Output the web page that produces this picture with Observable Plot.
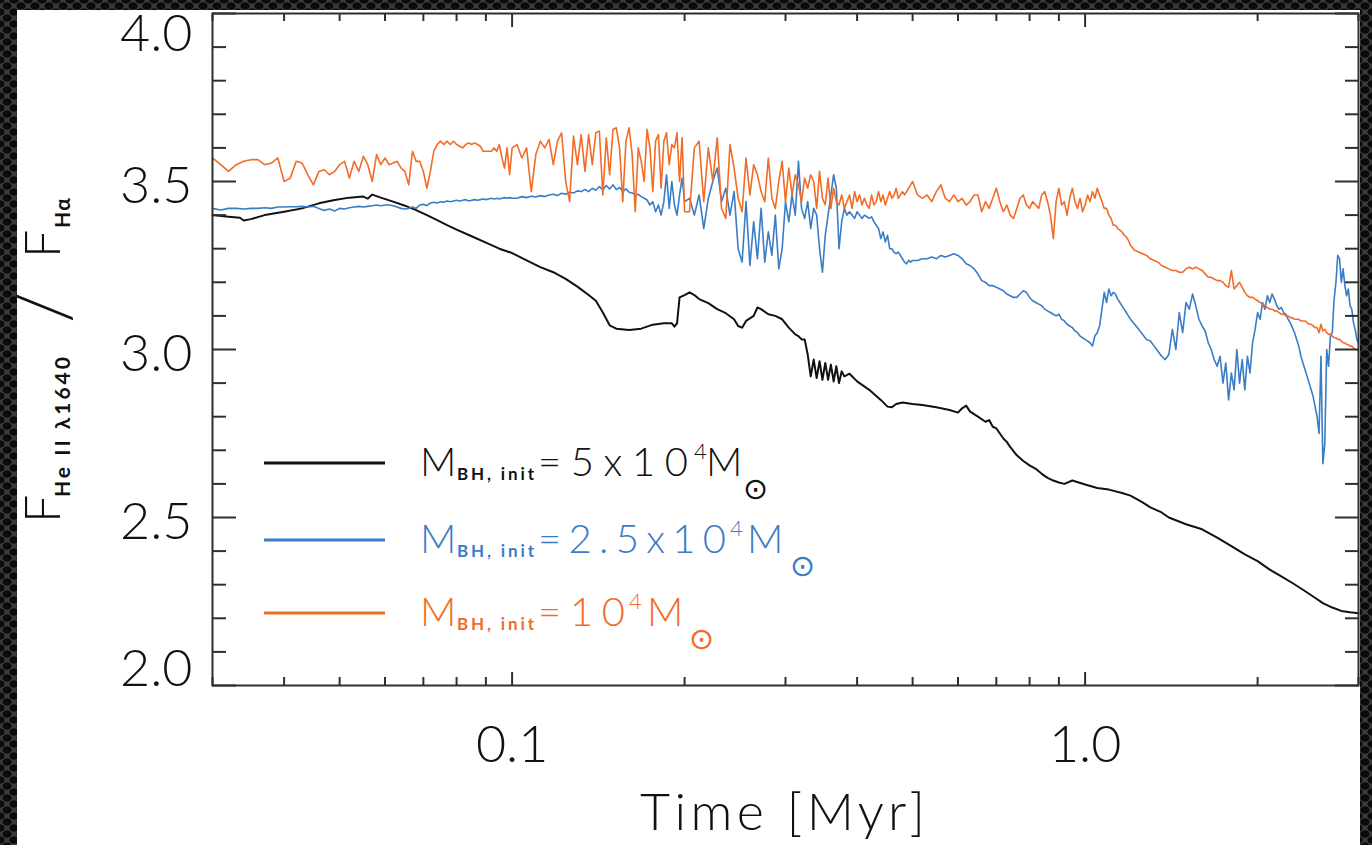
<!DOCTYPE html>
<html>
<head>
<meta charset="utf-8">
<script src="https://cdn.jsdelivr.net/npm/d3@7"></script>
<script src="https://cdn.jsdelivr.net/npm/@observablehq/plot@0.6"></script>
<style>
  html, body { margin: 0; padding: 0; }
  body {
    width: 1372px; height: 845px; overflow: hidden; position: relative;
    background-color: #3a3a3c;
    background-image:
      radial-gradient(ellipse 5px 4px at 7px 6px, #0b0b0c 80%, rgba(0,0,0,0) 100%),
      radial-gradient(ellipse 5px 4px at 7px 6px, #0b0b0c 80%, rgba(0,0,0,0) 100%);
    background-size: 14px 12px, 14px 12px;
    background-position: 0 0, 7px 6px;
  }
  #panel { position: absolute; left: 17px; top: 10px; width: 1343px; height: 835px; background: #fff; }
  #panel svg { display: block; }
</style>
</head>
<body>
<div id="panel"></div>
<script>
// ---------------- data ----------------
const times = [
  0.030,0.031,0.032,0.033,0.034,0.035,0.036,0.037,0.038,0.039,
  0.040,0.041,0.042,0.043,0.044,0.045,0.046,0.047,0.048,0.049,
  0.050,0.051,0.052,0.053,0.054,0.055,0.056,0.057,0.058,0.059,
  0.060,0.061,0.062,0.063,0.064,0.065,0.066,0.067,0.068,0.069,
  0.070,0.071,0.072,0.073,0.074,0.075,0.076,0.077,0.078,0.079,
  0.080,0.081,0.082,0.083,0.084,0.085,0.086,0.087,0.088,0.089,
  0.090,0.091,0.092,0.093,0.094,0.095,0.096,0.097,0.098,0.099,
  0.100,
  0.102,0.104,0.106,0.108,0.110,0.112,0.114,0.116,0.118,0.120,
  0.122,0.124,0.126,0.128,0.130,0.132,0.134,0.136,0.138,0.140,
  0.142,0.144,0.146,0.148,0.150,0.152,0.154,0.156,0.158,0.160,
  0.162,0.164,0.166,0.168,0.170,0.172,0.174,0.176,0.178,0.180,
  0.182,0.184,0.186,0.188,0.190,0.192,0.194,0.196,0.198,0.200,
  0.204,0.208,0.212,0.216,0.220,0.224,0.228,0.232,0.236,0.240,
  0.244,0.248,0.252,0.256,0.260,0.264,0.268,0.272,0.276,0.280,
  0.284,0.288,0.292,0.296,0.300,0.304,0.308,0.312,0.316,0.320,
  0.324,0.328,0.332,0.336,0.340,0.344,0.348,0.352,0.356,0.360,
  0.364,0.368,0.372,0.376,0.380,0.384,0.388,0.392,0.396,0.400,
  0.404,0.408,0.412,0.416,0.420,0.424,0.428,0.432,0.436,0.440,
  0.444,0.448,0.452,0.456,0.460,0.464,0.468,0.472,0.476,0.480,
  0.484,0.488,0.492,0.496,0.500,
  0.51,0.52,0.53,0.54,0.55,0.56,0.57,0.58,0.59,0.60,
  0.61,0.62,0.63,0.64,0.65,0.66,0.67,0.68,0.69,0.70,
  0.71,0.72,0.73,0.74,0.75,0.76,0.77,0.78,0.79,0.80,
  0.81,0.82,0.83,0.84,0.85,0.86,0.87,0.88,0.89,0.90,
  0.91,0.92,0.93,0.94,0.95,0.96,0.97,0.98,0.99,1.00,
  1.01,1.02,1.03,1.04,1.05,1.06,1.07,1.08,1.09,1.10,
  1.11,1.12,1.13,1.14,1.15,1.16,1.17,1.18,1.19,1.20,
  1.22,1.24,1.26,1.28,1.30,1.32,1.34,1.36,1.38,1.40,
  1.42,1.44,1.46,1.48,1.50,1.52,1.54,1.56,1.58,1.60,
  1.62,1.64,1.66,1.68,1.70,1.72,1.74,1.76,1.78,1.80,
  1.82,1.84,1.86,1.88,1.90,1.92,1.94,1.96,1.98,2.00,
  2.02,2.04,2.06,2.08,2.10,2.12,2.14,2.16,2.18,2.20,
  2.22,2.24,2.26,2.28,2.30,2.32,2.34,2.36,2.38,2.40,
  2.42,2.44,2.46,2.48,2.50,2.52,2.54,2.56,2.58,2.60,
  2.62,2.64,2.66,2.68,2.70,2.72,2.74,2.76,2.78,2.80,
  2.82,2.84,2.86,2.88,2.90,2.92,2.94,2.96,2.98,3.00
];

// M_BH,init = 1e4 Msun (orange)
const orangeValues = [
  3.57,3.55,3.53,3.55,3.56,3.565,3.565,3.55,3.555,3.57,
  3.50,3.51,3.56,3.555,3.52,3.49,3.53,3.535,3.52,3.53,
  3.55,3.56,3.51,3.56,3.53,3.575,3.55,3.50,3.58,3.55,
  3.57,3.55,3.555,3.56,3.54,3.53,3.49,3.59,3.56,3.56,
  3.53,3.48,3.53,3.59,3.61,3.62,3.61,3.62,3.61,3.62,
  3.61,3.605,3.60,3.61,3.615,3.61,3.615,3.61,3.605,3.59,
  3.59,3.59,3.59,3.60,3.59,3.61,3.57,3.54,3.60,3.52,
  3.60,
  3.61,3.57,3.60,3.47,3.58,3.62,3.60,3.625,3.55,3.62,
  3.645,3.50,3.44,3.635,3.55,3.64,3.53,3.64,3.55,3.645,
  3.65,3.46,3.63,3.52,3.655,3.66,3.60,3.44,3.62,3.66,
  3.58,3.41,3.60,3.56,3.50,3.655,3.60,3.47,3.62,3.64,
  3.48,3.62,3.645,3.55,3.61,3.60,3.645,3.50,3.63,3.41,
  3.41,3.60,3.62,3.44,3.60,3.50,3.63,3.42,3.39,3.61,
  3.54,3.45,3.41,3.57,3.46,3.55,3.52,3.47,3.44,3.57,
  3.45,3.42,3.50,3.56,3.44,3.54,3.46,3.52,3.49,3.44,
  3.51,3.48,3.52,3.50,3.42,3.53,3.45,3.43,3.51,3.42,
  3.48,3.44,3.43,3.46,3.42,3.44,3.46,3.42,3.47,3.44,
  3.46,3.43,3.45,3.43,3.42,3.46,3.43,3.44,3.47,3.44,
  3.46,3.43,3.45,3.47,3.45,3.46,3.48,3.45,3.46,3.47,
  3.46,3.47,3.48,3.49,3.50,
  3.46,3.45,3.46,3.44,3.47,3.49,3.45,3.44,3.46,3.44,
  3.45,3.43,3.44,3.46,3.46,3.41,3.44,3.42,3.45,3.48,
  3.44,3.41,3.43,3.40,3.39,3.42,3.45,3.46,3.43,3.42,
  3.44,3.43,3.42,3.46,3.47,3.44,3.40,3.33,3.44,3.48,
  3.43,3.44,3.40,3.45,3.48,3.44,3.42,3.45,3.41,3.43,
  3.46,3.44,3.47,3.45,3.48,3.46,3.44,3.42,3.42,3.40,
  3.39,3.37,3.37,3.36,3.355,3.35,3.34,3.335,3.325,3.31,
  3.295,3.29,3.285,3.28,3.27,3.265,3.26,3.25,3.245,3.24,
  3.235,3.235,3.23,3.23,3.24,3.245,3.24,3.245,3.24,3.235,
  3.225,3.215,3.215,3.21,3.205,3.205,3.20,3.19,3.185,3.235,
  3.18,3.19,3.20,3.185,3.17,3.16,3.155,3.155,3.15,3.145,
  3.14,3.135,3.13,3.125,3.12,3.12,3.115,3.115,3.11,3.105,
  3.105,3.10,3.10,3.095,3.095,3.09,3.09,3.09,3.085,3.085,
  3.085,3.08,3.075,3.075,3.07,3.065,3.065,3.05,3.075,3.055,
  3.06,3.05,3.045,3.045,3.04,3.035,3.035,3.03,3.03,3.025,
  3.02,3.02,3.015,3.015,3.01,3.01,3.005,3.0,3.0,2.995
];

// M_BH,init = 2.5e4 Msun (blue)
const blueValues = [
  3.42,3.415,3.42,3.42,3.418,3.42,3.42,3.422,3.42,3.424,
  3.424,3.425,3.425,3.426,3.424,3.426,3.42,3.414,3.418,3.412,
  3.42,3.418,3.422,3.424,3.426,3.424,3.426,3.428,3.43,3.428,
  3.43,3.43,3.428,3.424,3.42,3.418,3.42,3.424,3.42,3.43,
  3.432,3.428,3.436,3.438,3.436,3.44,3.438,3.442,3.44,3.442,
  3.444,3.442,3.444,3.446,3.442,3.444,3.446,3.444,3.446,3.448,
  3.446,3.448,3.45,3.448,3.45,3.448,3.45,3.452,3.45,3.452,
  3.45,
  3.45,3.455,3.452,3.456,3.454,3.458,3.455,3.46,3.462,3.458,
  3.465,3.462,3.468,3.466,3.472,3.47,3.476,3.47,3.48,3.474,
  3.485,3.475,3.488,3.478,3.49,3.476,3.482,3.47,3.478,3.468,
  3.466,3.46,3.462,3.455,3.45,3.445,3.43,3.44,3.41,3.43,
  3.40,3.44,3.52,3.42,3.50,3.43,3.40,3.46,3.51,3.44,
  3.45,3.40,3.46,3.36,3.45,3.50,3.54,3.44,3.48,3.40,
  3.47,3.30,3.26,3.44,3.25,3.38,3.27,3.42,3.26,3.35,
  3.28,3.40,3.24,3.30,3.44,3.38,3.46,3.40,3.56,3.42,
  3.39,3.44,3.36,3.42,3.40,3.30,3.23,3.34,3.40,3.46,
  3.52,3.48,3.30,3.38,3.42,3.40,3.41,3.40,3.39,3.41,
  3.40,3.39,3.40,3.395,3.39,3.395,3.38,3.37,3.36,3.33,
  3.35,3.32,3.34,3.30,3.30,3.29,3.285,3.29,3.28,3.27,
  3.26,3.255,3.265,3.26,3.265,
  3.265,3.27,3.27,3.275,3.27,3.28,3.275,3.28,3.285,3.28,
  3.27,3.255,3.25,3.24,3.225,3.205,3.20,3.19,3.19,3.185,
  3.18,3.175,3.165,3.16,3.155,3.155,3.165,3.175,3.17,3.155,
  3.145,3.14,3.135,3.13,3.12,3.115,3.11,3.105,3.10,3.105,
  3.09,3.085,3.075,3.07,3.065,3.055,3.05,3.04,3.035,3.03,
  3.025,3.02,3.01,3.04,3.05,3.07,3.12,3.17,3.14,3.18,
  3.16,3.17,3.165,3.15,3.14,3.13,3.12,3.11,3.10,3.09,
  3.075,3.06,3.045,3.03,3.025,3.01,2.995,2.98,2.97,2.985,
  3.06,3.00,3.11,3.05,3.14,3.12,3.165,3.13,3.09,3.07,
  3.055,3.02,3.00,2.97,2.95,2.98,2.90,2.96,2.85,2.93,
  2.88,3.00,2.90,2.97,2.88,2.98,2.93,3.02,3.06,3.11,
  3.09,3.14,3.12,3.16,3.14,3.165,3.15,3.13,3.12,3.125,
  3.11,3.105,3.09,3.08,3.065,3.05,3.03,3.01,2.98,2.96,
  2.94,2.92,2.90,2.88,2.86,2.83,2.80,2.75,2.98,2.66,
  2.72,3.00,2.95,3.04,3.05,3.15,3.20,3.28,3.27,3.20,
  3.24,3.19,3.16,3.18,3.13,3.12,3.08,3.06,3.03,3.02
];

// M_BH,init = 5e4 Msun (black)
const blackTimes = [
  0.030,0.032,0.0335,0.034,0.035,0.037,0.040,0.043,0.046,0.049,
  0.052,0.055,0.056,0.057,0.059,0.062,0.065,0.068,0.071,0.074,
  0.077,0.080,0.085,0.090,0.095,0.100,0.106,0.112,0.118,0.124,
  0.130,0.136,0.140,0.144,0.148,0.152,0.160,0.168,0.176,0.184,
  0.190,0.192,0.194,0.196,0.200,0.204,0.208,0.212,0.220,0.228,
  0.236,0.244,0.248,0.252,0.256,0.264,0.268,0.272,0.280,0.288,
  0.296,0.304,0.312,0.316,0.320,0.324,0.328,0.332,0.336,0.340,
  0.344,0.348,0.352,0.356,0.360,0.364,0.368,0.372,0.376,0.380,
  0.388,0.400,0.420,0.440,0.452,0.460,0.468,0.480,0.500,0.52,
  0.55,0.58,0.60,0.61,0.62,0.63,0.65,0.67,0.68,0.69,
  0.70,0.71,0.72,0.73,0.74,0.76,0.78,0.80,0.82,0.84,
  0.86,0.88,0.90,0.92,0.95,1.00,1.05,1.10,1.16,1.20,
  1.26,1.30,1.36,1.40,1.50,1.60,1.70,1.80,1.90,2.00,
  2.10,2.20,2.30,2.40,2.50,2.60,2.70,2.80,2.90,3.00
];
const blackValues = [
  3.40,3.395,3.392,3.384,3.388,3.40,3.41,3.42,3.435,3.445,
  3.452,3.455,3.449,3.461,3.452,3.44,3.428,3.415,3.40,3.385,
  3.37,3.357,3.337,3.318,3.30,3.287,3.265,3.245,3.23,3.21,
  3.187,3.162,3.145,3.11,3.072,3.062,3.058,3.062,3.074,3.078,
  3.078,3.068,3.078,3.155,3.162,3.17,3.162,3.15,3.138,3.12,
  3.108,3.09,3.07,3.065,3.085,3.10,3.125,3.12,3.105,3.10,
  3.09,3.065,3.045,3.04,3.03,3.03,2.985,2.92,2.97,2.915,
  2.965,2.91,2.96,2.91,2.955,2.905,2.95,2.90,2.935,2.92,
  2.928,2.905,2.88,2.85,2.83,2.828,2.838,2.842,2.838,2.835,
  2.828,2.82,2.812,2.825,2.833,2.815,2.80,2.785,2.79,2.77,
  2.765,2.75,2.735,2.725,2.71,2.685,2.668,2.655,2.645,2.63,
  2.618,2.61,2.604,2.60,2.61,2.598,2.588,2.583,2.573,2.565,
  2.545,2.53,2.515,2.50,2.48,2.465,2.44,2.415,2.39,2.37,
  2.345,2.325,2.305,2.285,2.265,2.245,2.232,2.222,2.218,2.215
];

const seriesColors = ["#111111", "#3b7cc7", "#f26c27"];
const legendMass = ["5x10", "2.5x10", "10"];
const legendExponent = "4";
const legendSubscript = "BH, init";

const xMajorTicks = [0.1, 1.0];
const xMinorTicks = [0.03,0.04,0.05,0.06,0.07,0.08,0.09,0.2,0.3,0.4,0.5,0.6,0.7,0.8,0.9,2,3];
const yMajorTicks = [2.0, 2.5, 3.0, 3.5, 4.0];
const yMinorTicks = [2.1,2.2,2.3,2.4,2.6,2.7,2.8,2.9,3.1,3.2,3.3,3.4,3.6,3.7,3.8,3.9];
const xTitle = "Time [Myr]";

if (times.length !== orangeValues.length || times.length !== blueValues.length || blackTimes.length !== blackValues.length) {
  console.error("length mismatch", times.length, orangeValues.length, blueValues.length, blackTimes.length, blackValues.length);
}

// ---------------- build tables ----------------
const n = Math.min(times.length, orangeValues.length, blueValues.length);
const orangeRows = [], blueRows = [], blackRows = [];
for (let i = 0; i < n; i++) {
  orangeRows.push({t: times[i], v: orangeValues[i]});
  blueRows.push({t: times[i], v: blueValues[i]});
}
for (let i = 0; i < Math.min(blackTimes.length, blackValues.length); i++) {
  blackRows.push({t: blackTimes[i], v: blackValues[i]});
}

// ---------------- chart ----------------
const axisStroke = "#2f2f2f";
const labelFont = {fontFamily: "Lato", fontWeight: 300, fontSize: 52, fill: "#111"};
const tickOnly = {fill: "none", stroke: axisStroke, strokeWidth: 2, label: null};
const fmt = d => d.toFixed(1);

const chart = Plot.plot({
  width: 1343, height: 835,
  marginLeft: 195, marginRight: 2, marginTop: 3, marginBottom: 160,
  x: {type: "log", domain: [0.03, 3]},
  y: {domain: [2, 4]},
  style: {background: "transparent", overflow: "visible", fontFamily: "Lato"},
  marks: [
    Plot.line(blackRows, {x: "t", y: "v", stroke: seriesColors[0], strokeWidth: 2}),
    Plot.line(blueRows, {x: "t", y: "v", stroke: seriesColors[1], strokeWidth: 1.6}),
    Plot.line(orangeRows, {x: "t", y: "v", stroke: seriesColors[2], strokeWidth: 1.6}),
    Plot.frame({stroke: axisStroke, strokeWidth: 2}),
    Plot.axisX(xMajorTicks, {...tickOnly, anchor: "bottom", tickSize: -13}),
    Plot.axisX(xMinorTicks, {...tickOnly, anchor: "bottom", tickSize: -8}),
    Plot.axisX(xMajorTicks, {...tickOnly, anchor: "top", tickSize: -13}),
    Plot.axisX(xMinorTicks, {...tickOnly, anchor: "top", tickSize: -7}),
    Plot.axisY(yMajorTicks, {...tickOnly, anchor: "left", tickSize: -24}),
    Plot.axisY(yMinorTicks, {...tickOnly, anchor: "left", tickSize: -14}),
    Plot.axisY(yMajorTicks, {...tickOnly, anchor: "right", tickSize: -24}),
    Plot.axisY(yMinorTicks, {...tickOnly, anchor: "right", tickSize: -14}),
    Plot.axisX(xMajorTicks, {anchor: "bottom", tickSize: 0, tickPadding: 40, tickFormat: fmt, label: null, ...labelFont}),
    Plot.axisY(yMajorTicks.filter(d => d > 2 && d < 4), {anchor: "left", tickSize: 0, tickPadding: 20, tickFormat: fmt, label: null, dy: 5, ...labelFont}),
    Plot.axisY(yMajorTicks.filter(d => d === 4), {anchor: "left", tickSize: 0, tickPadding: 20, tickFormat: fmt, label: null, dy: 21, ...labelFont}),
    Plot.axisY(yMajorTicks.filter(d => d === 2), {anchor: "left", tickSize: 0, tickPadding: 20, tickFormat: fmt, label: null, dy: -16, ...labelFont})
  ]
});
document.getElementById("panel").appendChild(chart);

// ---------------- titles and legend (text with sub/superscripts) ----------------
const svg = d3.select(chart);
const ov = svg.append("g").attr("class", "annotations").attr("text-anchor", "start");
function txt(parent, x, y, str, o = {}) {
  const t = parent.append("text")
    .attr("x", x).attr("y", y).text(str)
    .attr("text-anchor", o.anchor || "start")
    .attr("font-family", o.family || "Lato")
    .attr("font-weight", o.weight || 300)
    .attr("font-size", o.size || 52)
    .attr("fill", o.fill || "#111");
  if (o.length) t.attr("textLength", o.length).attr("lengthAdjust", "spacing");
  return t;
}

// x-axis title
txt(ov, 623, 820, xTitle, {size: 52, length: 285});

// y-axis title: F_{He II λ1640} / F_{Hα}
const yt = ov.append("g").attr("transform", "translate(43,513) rotate(-90)");
txt(yt, 0, 0, "F", {size: 50});
txt(yt, 26, 10, "He II λ1640", {size: 21, weight: 700, length: 140});
txt(yt, 200, 10, "/", {size: 72});
txt(yt, 265, 0, "F", {size: 50});
txt(yt, 295, 10, "Hα", {size: 21, weight: 700, length: 30});

// legend
const legendLineY = [453, 530, 603];
const massLen = [150, 188, 87];
const supX = [677, 713, 612];
const mX = [689, 730, 630];
const sunX = [726, 773, 672];
for (let i = 0; i < 3; i++) {
  const c = seriesColors[i];
  const y = legendLineY[i];
  ov.append("line").attr("x1", 247).attr("x2", 368).attr("y1", y).attr("y2", y)
    .attr("stroke", c).attr("stroke-width", 3);
  const b = y + 13;
  txt(ov, 403, b, "M", {size: 40, fill: c});
  txt(ov, 440, b + 4, legendSubscript, {size: 17, weight: 700, length: 77, fill: c});
  txt(ov, 521, b, "=" + legendMass[i], {size: 40, length: massLen[i], fill: c});
  txt(ov, supX[i], b - 17, legendExponent, {size: 22, fill: c});
  txt(ov, mX[i], b, "M", {size: 40, length: 33, fill: c});
  txt(ov, sunX[i], b + 23, "⊙", {size: 30, family: "DejaVu Sans", weight: 400, fill: c});
}
</script>
</body>
</html>
